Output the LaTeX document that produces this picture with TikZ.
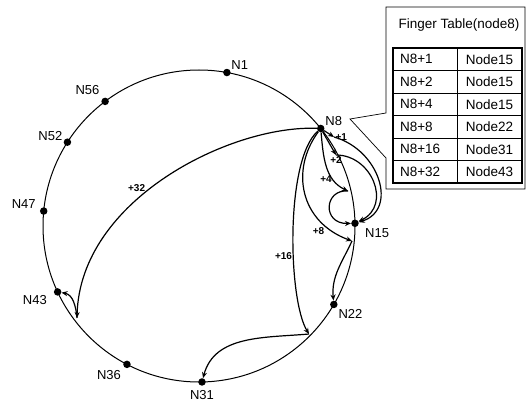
\documentclass[tikz,border=0pt]{standalone}
\usepackage{fontspec}
\setmainfont{Liberation Sans}
\usetikzlibrary{arrows.meta, positioning}

\begin{document}
\begin{tikzpicture}[
  x=1pt, y=1pt,
  ring/.style={line width=1pt},
  dot/.style={circle, fill=black, inner sep=0pt, minimum size=7.5pt},
  nlabel/.style={font=\fontsize{13}{15}\selectfont, inner sep=1pt},
  farrow/.style={-{Stealth[length=6pt, width=5pt]}, line width=1.2pt},
  flabel/.style={font=\fontsize{10}{11}\selectfont\bfseries, inner sep=1pt},
  cella/.style={draw, line width=0.7pt, outer sep=0pt, minimum height=22.5pt, text width=50pt, inner xsep=7pt, align=left, font=\fontsize{13.5}{15}\selectfont},
  cellb/.style={draw, line width=0.7pt, outer sep=0pt, minimum height=22.5pt, minimum width=65pt, font=\fontsize{13.5}{15}\selectfont}
]
\useasboundingbox (0,0) rectangle (526,-401);

% chord ring
\coordinate (c) at (199,-226);
\draw[ring] (c) circle (156);
\begin{scope}[shift={(c)}]
\node[dot, label={[nlabel]32:N1}] (n1) at (79.7:156) {};
\node[dot, label={[nlabel]30:N8}] (n8) at (38.7:156) {};
\node[dot, label={[nlabel, label distance=6pt]-25:N15}] (n15) at (1:156) {};
\node[dot, label={[nlabel, label distance=1pt]-45:N22}] (n22) at (-30.2:156) {};
\node[dot, label={[nlabel, label distance=3pt]below:N31}] (n31) at (-88.9:156) {};
\node[dot, label={[nlabel, label distance=3pt]-135:N36}] (n36) at (242.5:156) {};
\node[dot, label={[nlabel, label distance=6pt]195:N43}] (n43) at (205:156) {};
\node[dot, label={[nlabel, label distance=3pt]170:N47}] (n47) at (174.5:156) {};
\node[dot, label={[nlabel]170:N52}] (n52) at (147.5:156) {};
\node[dot, label={[nlabel, label distance=3pt]130:N56}] (n56) at (127:156) {};
\end{scope}

% finger targets on the ring
\coordinate (f1) at (334,-137);
\coordinate (f2) at (336,-155);
\coordinate (f4) at (348,-191);
\coordinate (f8) at (352,-241);
\coordinate (f16) at (309,-334);
\coordinate (f32) at (77,-318);

% fingers of N8 and their successors
\draw[farrow] (n8) -- (f1) node[flabel, right] {+1};
\draw[farrow] (f1) .. controls (380,-150) and (398,-210) .. (n15);
\draw[farrow] (n8) -- (f2) node[flabel, below] {+2};
\draw[farrow] (f2) .. controls (372,-155) and (392,-205) .. (n15);
\draw[farrow] (n8) to[out=-85, in=155] node[flabel, left, pos=0.72] {+4} (f4);
\draw[farrow] (f4) .. controls (324,-189) and (322,-224) .. (n15);
\draw[farrow] (n8) .. controls (290,-170) and (300,-222) .. node[flabel, below left, pos=0.8] {+8} (f8);
\draw[farrow] (f8) to[out=-115, in=95] (n22);
\draw[farrow] (n8) .. controls (285,-160) and (288,-300) .. node[flabel, left, pos=0.6] {+16} (f16);
\draw[farrow] (f16) to[out=185, in=75] (n31);
\draw[farrow] (n8) .. controls (230,-125) and (80,-200) .. node[flabel, above left, inner sep=0pt, pos=0.57] {+32} (f32);
\draw[farrow] (f32) to[out=95, in=-10] (n43);

% finger table callout
\draw[line width=0.7pt] (386,-7) -- (525,-7) -- (525,-189) -- (386,-189) -- (386,-158) -- (350,-119) -- (386,-113) -- cycle;
\node[font=\fontsize{13.5}{15}\selectfont] (ftitle) at (459,-25) {Finger Table(node8)};
\node[cella, anchor=north west] (r1a) at (393,-48) {N8+1};
\node[cellb, right=0pt of r1a] (r1b) {Node15};
\node[cella, below=0pt of r1a] (r2a) {N8+2};
\node[cellb, right=0pt of r2a] (r2b) {Node15};
\node[cella, below=0pt of r2a] (r3a) {N8+4};
\node[cellb, right=0pt of r3a] (r3b) {Node15};
\node[cella, below=0pt of r3a] (r4a) {N8+8};
\node[cellb, right=0pt of r4a] (r4b) {Node22};
\node[cella, below=0pt of r4a] (r5a) {N8+16};
\node[cellb, right=0pt of r5a] (r5b) {Node31};
\node[cella, below=0pt of r5a] (r6a) {N8+32};
\node[cellb, right=0pt of r6a] (r6b) {Node43};
\draw[line width=1.8pt] (r1a.north west) rectangle (r6b.south east);
\end{tikzpicture}
\end{document}
